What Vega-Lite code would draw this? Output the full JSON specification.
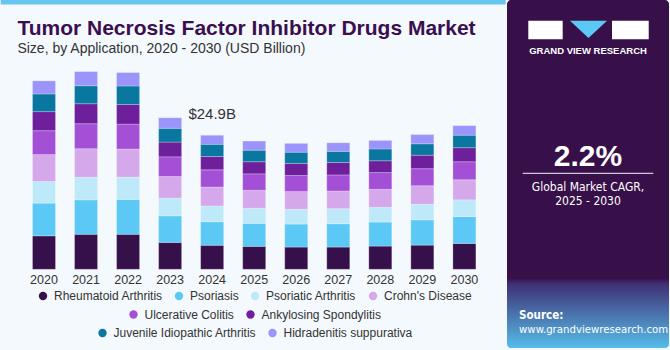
{
  "$schema": "https://vega.github.io/schema/vega-lite/v6.json",
  "background": "#f4f9fd",
  "padding": {"left": 0, "top": 0, "right": 2, "bottom": 2},
  "spacing": 1,
  "config": {
    "font": "Liberation Sans",
    "view": {"stroke": null},
    "axisX": {"title": null, "labelAngle": 0, "ticks": false, "domain": false, "labelFontSize": 12.5, "labelColor": "#333333", "labelPadding": 4},
    "legend": {
      "orient": "bottom",
      "title": null,
      "direction": "horizontal",
      "symbolType": "circle",
      "symbolSize": 70,
      "symbolStrokeWidth": 0,
      "labelFontSize": 12,
      "labelColor": "#333333",
      "labelOffset": 5,
      "columnPadding": 10,
      "offset": 4,
      "layout": {"bottom": {"anchor": "middle", "direction": "vertical", "center": true, "margin": 6.5}}
    }
  },
  "datasets": {
    "apps": [
      {"app": "Rheumatoid Arthritis", "k": 1},
      {"app": "Psoriasis", "k": 2},
      {"app": "Psoriatic Arthritis", "k": 3},
      {"app": "Crohn's Disease", "k": 4},
      {"app": "Ulcerative Colitis", "k": 5},
      {"app": "Ankylosing Spondylitis", "k": 6},
      {"app": "Juvenile Idiopathic Arthritis", "k": 7},
      {"app": "Hidradenitis suppurativa", "k": 8}
    ],
    "market": [
      {"year": "2020", "app": "Rheumatoid Arthritis", "value": 6.21},
      {"year": "2020", "app": "Psoriasis", "value": 6.08},
      {"year": "2020", "app": "Psoriatic Arthritis", "value": 4.02},
      {"year": "2020", "app": "Crohn's Disease", "value": 4.99},
      {"year": "2020", "app": "Ulcerative Colitis", "value": 4.44},
      {"year": "2020", "app": "Ankylosing Spondylitis", "value": 3.53},
      {"year": "2020", "app": "Juvenile Idiopathic Arthritis", "value": 3.29},
      {"year": "2020", "app": "Hidradenitis suppurativa", "value": 2.43},
      {"year": "2021", "app": "Rheumatoid Arthritis", "value": 6.50},
      {"year": "2021", "app": "Psoriasis", "value": 6.39},
      {"year": "2021", "app": "Psoriatic Arthritis", "value": 4.20},
      {"year": "2021", "app": "Crohn's Disease", "value": 5.30},
      {"year": "2021", "app": "Ulcerative Colitis", "value": 4.64},
      {"year": "2021", "app": "Ankylosing Spondylitis", "value": 3.71},
      {"year": "2021", "app": "Juvenile Idiopathic Arthritis", "value": 3.34},
      {"year": "2021", "app": "Hidradenitis suppurativa", "value": 2.63},
      {"year": "2022", "app": "Rheumatoid Arthritis", "value": 6.50},
      {"year": "2022", "app": "Psoriasis", "value": 6.47},
      {"year": "2022", "app": "Psoriatic Arthritis", "value": 4.13},
      {"year": "2022", "app": "Crohn's Disease", "value": 5.24},
      {"year": "2022", "app": "Ulcerative Colitis", "value": 4.62},
      {"year": "2022", "app": "Ankylosing Spondylitis", "value": 3.65},
      {"year": "2022", "app": "Juvenile Idiopathic Arthritis", "value": 3.42},
      {"year": "2022", "app": "Hidradenitis suppurativa", "value": 2.50},
      {"year": "2023", "app": "Rheumatoid Arthritis", "value": 4.99},
      {"year": "2023", "app": "Psoriasis", "value": 4.93},
      {"year": "2023", "app": "Psoriatic Arthritis", "value": 3.29},
      {"year": "2023", "app": "Crohn's Disease", "value": 4.02},
      {"year": "2023", "app": "Ulcerative Colitis", "value": 3.65},
      {"year": "2023", "app": "Ankylosing Spondylitis", "value": 2.74},
      {"year": "2023", "app": "Juvenile Idiopathic Arthritis", "value": 2.56},
      {"year": "2023", "app": "Hidradenitis suppurativa", "value": 1.95},
      {"year": "2024", "app": "Rheumatoid Arthritis", "value": 4.45},
      {"year": "2024", "app": "Psoriasis", "value": 4.38},
      {"year": "2024", "app": "Psoriatic Arthritis", "value": 2.92},
      {"year": "2024", "app": "Crohn's Disease", "value": 3.53},
      {"year": "2024", "app": "Ulcerative Colitis", "value": 3.18},
      {"year": "2024", "app": "Ankylosing Spondylitis", "value": 2.48},
      {"year": "2024", "app": "Juvenile Idiopathic Arthritis", "value": 2.26},
      {"year": "2024", "app": "Hidradenitis suppurativa", "value": 1.70},
      {"year": "2025", "app": "Rheumatoid Arthritis", "value": 4.26},
      {"year": "2025", "app": "Psoriasis", "value": 4.26},
      {"year": "2025", "app": "Psoriatic Arthritis", "value": 2.81},
      {"year": "2025", "app": "Crohn's Disease", "value": 3.34},
      {"year": "2025", "app": "Ulcerative Colitis", "value": 3.05},
      {"year": "2025", "app": "Ankylosing Spondylitis", "value": 2.25},
      {"year": "2025", "app": "Juvenile Idiopathic Arthritis", "value": 2.14},
      {"year": "2025", "app": "Hidradenitis suppurativa", "value": 1.70},
      {"year": "2026", "app": "Rheumatoid Arthritis", "value": 4.13},
      {"year": "2026", "app": "Psoriasis", "value": 4.27},
      {"year": "2026", "app": "Psoriatic Arthritis", "value": 2.74},
      {"year": "2026", "app": "Crohn's Disease", "value": 3.29},
      {"year": "2026", "app": "Ulcerative Colitis", "value": 2.98},
      {"year": "2026", "app": "Ankylosing Spondylitis", "value": 2.25},
      {"year": "2026", "app": "Juvenile Idiopathic Arthritis", "value": 2.08},
      {"year": "2026", "app": "Hidradenitis suppurativa", "value": 1.64},
      {"year": "2027", "app": "Rheumatoid Arthritis", "value": 4.13},
      {"year": "2027", "app": "Psoriasis", "value": 4.33},
      {"year": "2027", "app": "Psoriatic Arthritis", "value": 2.79},
      {"year": "2027", "app": "Crohn's Disease", "value": 3.29},
      {"year": "2027", "app": "Ulcerative Colitis", "value": 2.98},
      {"year": "2027", "app": "Ankylosing Spondylitis", "value": 2.32},
      {"year": "2027", "app": "Juvenile Idiopathic Arthritis", "value": 2.06},
      {"year": "2027", "app": "Hidradenitis suppurativa", "value": 1.59},
      {"year": "2028", "app": "Rheumatoid Arthritis", "value": 4.31},
      {"year": "2028", "app": "Psoriasis", "value": 4.46},
      {"year": "2028", "app": "Psoriatic Arthritis", "value": 2.74},
      {"year": "2028", "app": "Crohn's Disease", "value": 3.34},
      {"year": "2028", "app": "Ulcerative Colitis", "value": 3.11},
      {"year": "2028", "app": "Ankylosing Spondylitis", "value": 2.19},
      {"year": "2028", "app": "Juvenile Idiopathic Arthritis", "value": 2.19},
      {"year": "2028", "app": "Hidradenitis suppurativa", "value": 1.59},
      {"year": "2029", "app": "Rheumatoid Arthritis", "value": 4.49},
      {"year": "2029", "app": "Psoriasis", "value": 4.69},
      {"year": "2029", "app": "Psoriatic Arthritis", "value": 2.92},
      {"year": "2029", "app": "Crohn's Disease", "value": 3.42},
      {"year": "2029", "app": "Ulcerative Colitis", "value": 3.16},
      {"year": "2029", "app": "Ankylosing Spondylitis", "value": 2.50},
      {"year": "2029", "app": "Juvenile Idiopathic Arthritis", "value": 2.12},
      {"year": "2029", "app": "Hidradenitis suppurativa", "value": 1.72},
      {"year": "2030", "app": "Rheumatoid Arthritis", "value": 4.80},
      {"year": "2030", "app": "Psoriasis", "value": 4.99},
      {"year": "2030", "app": "Psoriatic Arthritis", "value": 3.11},
      {"year": "2030", "app": "Crohn's Disease", "value": 3.73},
      {"year": "2030", "app": "Ulcerative Colitis", "value": 3.34},
      {"year": "2030", "app": "Ankylosing Spondylitis", "value": 2.61},
      {"year": "2030", "app": "Juvenile Idiopathic Arthritis", "value": 2.32},
      {"year": "2030", "app": "Hidradenitis suppurativa", "value": 1.77}
    ]
  },
  "hconcat": [
    {
      "width": 464.4,
      "height": 269.3,
      "title": {
        "text": "Tumor Necrosis Factor Inhibitor Drugs Market",
        "subtitle": "Size, by Application, 2020 - 2030 (USD Billion)",
        "anchor": "start",
        "frame": "group",
        "dx": -4.6,
        "fontSize": 21,
        "fontWeight": "bold",
        "color": "#3b0f4f",
        "subtitleFontSize": 14,
        "subtitleColor": "#333333",
        "subtitlePadding": 3,
        "offset": -56
      },
      "layer": [
        {
          "data": {"values": [{}]},
          "mark": {"type": "point", "shape": "M-1.004,-0.533H0.996V-0.5155H-1.004Z", "size": 255025, "filled": true, "fill": "#66c7ee", "opacity": 1, "strokeWidth": 0},
          "encoding": {}
        },
        {
          "data": {"name": "market"},
          "transform": [
            {"lookup": "app", "from": {"data": {"name": "apps"}, "key": "app", "fields": ["k"]}},
            {"stack": "value", "groupby": ["year"], "sort": [{"field": "k", "order": "ascending"}], "as": ["v0", "v1"]},
            {"filter": {"field": "app", "oneOf": ["Rheumatoid Arthritis", "Psoriasis", "Psoriatic Arthritis", "Crohn's Disease"]}}
          ],
          "mark": {"type": "bar", "stroke": "#ffffff", "strokeOpacity": 0.3, "strokeWidth": 0.8},
          "encoding": {
            "x": {"field": "year", "type": "ordinal", "scale": {"paddingInner": 0.453, "paddingOuter": 0.25}},
            "y": {"field": "v0", "type": "quantitative", "scale": {"domain": [0, 49.19]}, "axis": null},
            "y2": {"field": "v1"},
            "color": {
              "field": "app", "type": "nominal",
              "scale": {"domain": ["Rheumatoid Arthritis", "Psoriasis", "Psoriatic Arthritis", "Crohn's Disease"], "range": ["#36104a", "#5bc8f5", "#bde9f9", "#d5a8ec"]},
              "legend": {}
            }
          }
        },
        {
          "data": {"name": "market"},
          "transform": [
            {"lookup": "app", "from": {"data": {"name": "apps"}, "key": "app", "fields": ["k"]}},
            {"stack": "value", "groupby": ["year"], "sort": [{"field": "k", "order": "ascending"}], "as": ["v0", "v1"]},
            {"filter": {"field": "app", "oneOf": ["Ulcerative Colitis", "Ankylosing Spondylitis"]}}
          ],
          "mark": {"type": "bar", "stroke": "#ffffff", "strokeOpacity": 0.3, "strokeWidth": 0.8},
          "encoding": {
            "x": {"field": "year", "type": "ordinal"},
            "y": {"field": "v0", "type": "quantitative"},
            "y2": {"field": "v1"},
            "color": {
              "field": "app", "type": "nominal",
              "scale": {"domain": ["Ulcerative Colitis", "Ankylosing Spondylitis"], "range": ["#a350d6", "#6e1f9b"]},
              "legend": {}
            }
          }
        },
        {
          "data": {"name": "market"},
          "transform": [
            {"lookup": "app", "from": {"data": {"name": "apps"}, "key": "app", "fields": ["k"]}},
            {"stack": "value", "groupby": ["year"], "sort": [{"field": "k", "order": "ascending"}], "as": ["v0", "v1"]},
            {"filter": {"field": "app", "oneOf": ["Juvenile Idiopathic Arthritis", "Hidradenitis suppurativa"]}}
          ],
          "mark": {"type": "bar", "stroke": "#ffffff", "strokeOpacity": 0.3, "strokeWidth": 0.8},
          "encoding": {
            "x": {"field": "year", "type": "ordinal"},
            "y": {"field": "v0", "type": "quantitative"},
            "y2": {"field": "v1"},
            "color": {
              "field": "app", "type": "nominal",
              "scale": {"domain": ["Juvenile Idiopathic Arthritis", "Hidradenitis suppurativa"], "range": ["#0a77a0", "#9a94fb"]},
              "legend": {}
            }
          }
        },
        {
          "data": {"name": "market"},
          "transform": [
            {"filter": {"field": "year", "equal": "2024"}},
            {"aggregate": [{"op": "sum", "field": "value", "as": "total"}], "groupby": ["year"]}
          ],
          "mark": {"type": "text", "text": "$24.9B", "baseline": "bottom", "dy": -13, "fontSize": 15, "color": "#333333"},
          "encoding": {
            "x": {"field": "year", "type": "ordinal"},
            "y": {"field": "total", "type": "quantitative"}
          }
        }
      ],
      "resolve": {"scale": {"color": "independent"}}
    },
    {
      "width": 162,
      "height": 348,
      "view": {
        "fill": {"gradient": "linear", "x1": 0, "y1": 0, "x2": 0, "y2": 1, "stops": [
          {"offset": 0, "color": "#37104a"},
          {"offset": 0.8, "color": "#37104a"},
          {"offset": 0.815, "color": "#3f2f74"},
          {"offset": 1, "color": "#56bdea"}
        ]},
        "stroke": null,
        "cornerRadius": 4
      },
      "data": {"values": [{}]},
      "layer": [
        {"mark": {"type": "point", "shape": "M-0.995,-2.555H-0.422V-2.245H-0.995Z M0.4,-2.555H1.012V-2.245H0.4Z", "size": 14400, "filled": true, "fill": "#ffffff", "opacity": 1, "strokeWidth": 0}, "encoding": {}},
        {"mark": {"type": "point", "shape": "M-0.3,-2.555H0.317L0.008,-2.267Z", "size": 14400, "filled": true, "fill": "#5bc8f5", "opacity": 1, "strokeWidth": 0}, "encoding": {}},
        {"mark": {"type": "point", "shape": "M-1,-0.02H1V-0.0015H-1Z", "size": 17056, "filled": true, "fill": "#cfc6d8", "opacity": 1, "strokeWidth": 0}, "encoding": {}},
        {"mark": {"type": "text", "text": "GRAND VIEW RESEARCH", "baseline": "alphabetic", "dy": -120.5, "fontSize": 9.5, "fontWeight": "bold", "color": "#ffffff", "letterSpacing": 0.4}, "encoding": {}},
        {"mark": {"type": "text", "text": "2.2%", "baseline": "alphabetic", "dy": -8.3, "fontSize": 30, "fontWeight": "bold", "color": "#ffffff"}, "encoding": {}},
        {"mark": {"type": "text", "text": "Global Market CAGR,", "baseline": "alphabetic", "dy": 17, "fontSize": 12, "font": "Liberation Sans Narrow, DejaVu Sans Condensed, sans-serif", "color": "#ffffff"}, "encoding": {}},
        {"mark": {"type": "text", "text": "2025 - 2030", "baseline": "alphabetic", "dy": 31, "fontSize": 12, "font": "Liberation Sans Narrow, DejaVu Sans Condensed, sans-serif", "color": "#ffffff"}, "encoding": {}},
        {"mark": {"type": "text", "text": "Source:", "align": "left", "baseline": "alphabetic", "dx": -69, "dy": 145, "fontSize": 11.5, "fontWeight": "bold", "font": "Liberation Sans Narrow, DejaVu Sans Condensed, sans-serif", "color": "#ffffff"}, "encoding": {}},
        {"mark": {"type": "text", "text": "www.grandviewresearch.com", "align": "left", "baseline": "alphabetic", "dx": -69, "dy": 159, "fontSize": 11.3, "font": "Liberation Sans Narrow, DejaVu Sans Condensed, sans-serif", "color": "#ffffff"}, "encoding": {}}
      ]
    }
  ]
}
